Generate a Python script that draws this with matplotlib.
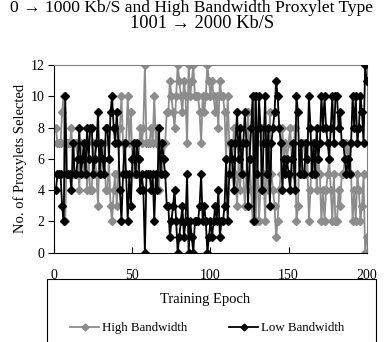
import matplotlib
matplotlib.use("Agg")
import matplotlib.pyplot as plt
from matplotlib.patches import Rectangle

plt.rcParams['font.family'] = ['Liberation Serif', 'DejaVu Serif']

epochs = list(range(1, 201))

low_bw = [4,5,5,5,3,2,10,5,5,5,
          4,7,5,5,6,8,5,6,7,5,
          8,6,8,8,5,6,7,9,5,7,
          6,5,8,8,6,9,10,8,7,9,
          7,4,2,5,7,5,2,5,3,6,
          7,5,7,6,4,5,4,0,5,5,
          5,4,5,2,5,4,8,5,7,6,
          5,3,3,1,2,3,4,2,0,1,
          2,3,1,2,5,0,2,1,0,2,
          2,2,3,5,2,3,2,0,1,2,
          1,2,3,2,4,1,2,2,3,6,
          2,5,7,6,4,7,9,6,8,5,
          7,9,7,3,6,8,10,2,10,5,
          10,8,4,7,10,5,8,3,7,8,
          9,11,10,8,7,4,6,5,6,5,
          4,6,7,4,10,9,5,7,5,5,
          7,6,10,8,5,7,5,8,6,7,
          10,8,10,8,7,6,8,10,7,10,
          10,8,9,7,7,6,5,6,5,7,
          10,8,10,7,8,10,9,7,12,11]

high_bw = [8,7,7,7,9,10,2,7,7,7,
           8,5,7,7,6,4,7,6,5,7,
           4,6,4,4,7,6,5,3,7,5,
           6,7,4,4,6,3,2,4,5,3,
           5,8,10,7,5,7,10,7,9,6,
           5,7,5,6,8,7,8,12,7,7,
           7,8,7,10,7,8,4,7,5,6,
           7,9,9,11,10,9,8,10,12,11,
           10,9,11,10,7,12,10,11,12,10,
           10,10,9,7,10,9,10,12,11,10,
           11,10,9,10,8,11,10,10,9,6,
           10,7,5,6,8,5,3,6,4,7,
           5,3,5,9,6,4,2,10,2,7,
           2,4,8,5,2,7,4,9,5,4,
           3,1,2,4,5,8,6,7,6,7,
           8,6,5,8,2,3,7,5,7,7,
           5,6,2,4,7,5,7,4,6,5,
           2,4,2,4,5,6,4,2,5,2,
           2,4,3,5,5,6,7,6,7,5,
           2,4,2,5,4,2,3,5,0,1]

series_names = ["High Bandwidth", "Low Bandwidth"]
x_ticks = [0, 50, 100, 150, 200]
y_ticks = [0, 2, 4, 6, 8, 10, 12]

W, H = 384, 342
fig = plt.figure(figsize=(W/100, H/100), dpi=100)
ax = fig.add_axes([54.3/W, 1-252.7/H, (366.7-54.3)/W, (252.7-65)/H])

gray = '#8c8c8c'
l1, = ax.plot(epochs, high_bw, color=gray, lw=1.3, marker='D', ms=4.3,
              mec=gray, mfc=gray, label=series_names[0], zorder=2)
l2, = ax.plot(epochs, low_bw, color='black', lw=1.3, marker='D', ms=4.3,
              mec='black', mfc='black', label=series_names[1], zorder=3)

ax.set_xlim(0, 200)
ax.set_ylim(0, 12)
ax.set_xticks(x_ticks)
ax.set_yticks(y_ticks)
ax.tick_params(axis='x', direction='in', length=4, labelsize=10, pad=11.5, width=0.8)
ax.tick_params(axis='y', direction='out', length=4, labelsize=10, pad=3, width=0.8)
for s in ['top', 'right']:
    ax.spines[s].set_color('#808080')
    ax.spines[s].set_linewidth(0.8)
for s in ['left', 'bottom']:
    ax.spines[s].set_linewidth(0.8)

fig.text(205/W, 1-300/H, "Training Epoch", ha='center', va='center', fontsize=10.5)
fig.text(20/W, 1-158/H, "No. of Proxylets Selected", ha='center', va='center',
         rotation=90, fontsize=10.5)

fig.text(192/W, 1-8/H, "0 \u2192 1000 Kb/S and High Bandwidth Proxylet Type",
         ha='center', va='center', fontsize=12.6)
fig.text(202/W, 1-24/H, "1001 \u2192 2000 Kb/S", ha='center', va='center', fontsize=13.2)

fig.patches.append(Rectangle((47/W, -0.05), (376-47)/W, 1-279/H+0.05,
                             transform=fig.transFigure, fill=False,
                             edgecolor='black', lw=0.8))
fig.legend(handles=[l1, l2], loc='center', bbox_to_anchor=(207/W, 1-328/H),
           ncol=2, frameon=False, fontsize=9.3, handlelength=2.3,
           columnspacing=3.2, handletextpad=0.2, markerscale=0.8)

fig.savefig("out.png", dpi=100)
